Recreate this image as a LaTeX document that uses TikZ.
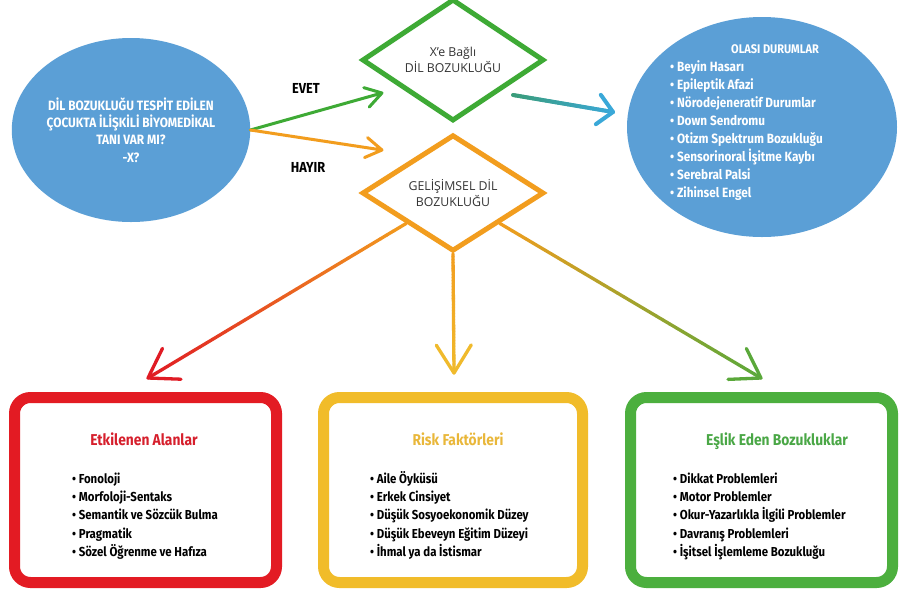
\documentclass[tikz,border=0pt]{standalone}
\usepackage{fontspec}
\setmainfont{Fira Sans}
\newfontfamily\condfont[FakeStretch=0.88]{Fira Sans}
\newfontfamily\diafont{Open Sans}
\usetikzlibrary{shapes.geometric,calc}

\definecolor{ovalblue}{HTML}{5B9FD6}
\definecolor{diagreen}{HTML}{3EAA35}
\definecolor{diaorange}{HTML}{F29D1E}
\definecolor{boxred}{HTML}{E31B23}
\definecolor{boxyellow}{HTML}{F1BC2A}
\definecolor{boxgreen}{HTML}{4CAF3E}
\definecolor{titlered}{HTML}{D61F2C}
\definecolor{titleyellow}{HTML}{E9B73A}
\definecolor{titlegreen}{HTML}{4AA746}
\definecolor{arrteal}{HTML}{3A9C78}
\definecolor{arrcyan}{HTML}{3AA8D8}
\definecolor{arrgreen}{HTML}{5AA83A}
\definecolor{arrred}{HTML}{E01B24}
\definecolor{arryellow}{HTML}{F0BA2C}

% colour-graded arrow: start, end, start colour, end colour, width, barb length, barb angle
\newcommand\gradarrow[7]{%
  \foreach \k in {0,...,39}{%
    \pgfmathsetmacro\pa{\k/40}%
    \pgfmathsetmacro\pb{(\k+1)/40}%
    \pgfmathsetmacro\mix{100*(\k+0.5)/40}%
    \draw[line width=#5, color=#4!\mix!#3, line cap=round]
      ($(#1)!\pa!(#2)$) -- ($(#1)!\pb!(#2)$);
  }%
  \draw[line width=#5, color=#4, line cap=round, line join=round]
    ($(#2)!#6!#7:(#1)$) -- (#2) -- ($(#2)!#6!-#7:(#1)$);
}

\tikzset{
  condbold/.style={font=\condfont\bfseries\fontsize{#1}{#1}\selectfont},
  infobox/.style={draw=#1, line width=11pt, rounded corners=16pt, fill=white,
    minimum width=262pt, minimum height=185pt, inner sep=0pt},
  decision/.style={diamond, draw=#1, line width=5pt, minimum width=182pt,
    minimum height=111pt, inner sep=0pt, align=center, text=black!80,
    font=\diafont\fontsize{12.3}{16.5}\selectfont},
  boxtitle/.style={anchor=base, inner sep=0pt, text=#1,
    font=\condfont\bfseries\fontsize{15.7}{15.7}\selectfont},
  listitem/.style={anchor=base west, inner sep=0pt, text=#1,
    font=\condfont\bfseries\fontsize{13}{13}\selectfont},
}

\begin{document}
\begin{tikzpicture}[x=1pt, y=-1pt]
\useasboundingbox (0,0) rectangle (899,598);
\fill[white] (0,0) rectangle (899,598);

% question oval
\node[ellipse, fill=ovalblue, minimum width=222pt, minimum height=184pt,
  inner sep=0pt, text=white, align=center,
  font=\condfont\bfseries\fontsize{13.5}{17.4}\selectfont] (q) at (131,130)
  {DİL BOZUKLUĞU TESPİT EDİLEN\\ÇOCUKTA İLİŞKİLİ BİYOMEDİKAL\\TANI VAR MI?\\-X?};

% decisions
\node[decision=diagreen] (xdep) at (453,60) {X’e Bağlı\\DİL BOZUKLUĞU};
\node[decision=diaorange] (gel) at (453,193) {GELİŞİMSEL DİL\\BOZUKLUĞU};

% possible conditions oval
\node[ellipse, fill=ovalblue, minimum width=270pt, minimum height=220pt,
  inner sep=0pt] (olasi) at (762,127) {};
\node[anchor=base, inner sep=0pt, text=white,
  font=\condfont\bfseries\fontsize{12.5}{12.5}\selectfont] (olasiT) at (775,53) {OLASI DURUMLAR};
\foreach \t [count=\i] in {Beyin Hasarı, Epileptik Afazi, Nörodejeneratif Durumlar,
    Down Sendromu, Otizm Spektrum Bozukluğu, Sensorinoral İşitme Kaybı,
    Serebral Palsi, Zihinsel Engel}
  \node[listitem=white, font=\condfont\bfseries\fontsize{13.4}{13.4}\selectfont]
    (olasi\i) at (670,{71.5+18*(\i-1)}) {• \t};

% yes / no branches
\coordinate (evetTip) at (382,93);
\coordinate (hayirTip) at (382,150);
\draw[diagreen, line width=3pt, line cap=round, line join=round]
  (q.east) -- (evetTip)
  ($(evetTip)!19pt!32:(q.east)$) -- (evetTip) -- ($(evetTip)!19pt!-32:(q.east)$);
\draw[diaorange, line width=3pt, line cap=round, line join=round]
  (q.east) -- (hayirTip)
  ($(hayirTip)!19pt!32:(q.east)$) -- (hayirTip) -- ($(hayirTip)!19pt!-32:(q.east)$);
\node[condbold=14.5, anchor=base] (evet) at (306,93) {EVET};
\node[condbold=14.5, anchor=base] (hayir) at (308,172) {HAYIR};

% from the first decision to the conditions oval
\coordinate (xOut) at (513,95);
\coordinate (olasiTip) at (613,112);
\gradarrow{xOut}{olasiTip}{arrteal}{arrcyan}{4pt}{21pt}{45}

% three branches from the developmental decision
\coordinate (gelSW) at ($(gel.west)!0.5!(gel.south)$);
\coordinate (gelSE) at ($(gel.east)!0.5!(gel.south)$);
\coordinate (etkTip) at (148,378);
\coordinate (riskTip) at (454,373);
\coordinate (eslikTip) at (761,378);
\gradarrow{gelSW}{etkTip}{diaorange}{arrred}{3.3pt}{33pt}{33}
\gradarrow{gel.south}{riskTip}{diaorange}{arryellow}{3.3pt}{33pt}{32}
\gradarrow{gelSE}{eslikTip}{diaorange}{arrgreen}{3.3pt}{33pt}{33}

% bottom boxes
\node[infobox=boxred] (etk) at (145.5,490) {};
\node[infobox=boxyellow, minimum width=259pt] (risk) at (453,490) {};
\node[infobox=boxgreen] (eslik) at (761.5,490) {};

\node[boxtitle=titlered] (etkT) at (144,445) {Etkilenen Alanlar};
\node[boxtitle=titleyellow] (riskT) at (458,445) {Risk Faktörleri};
\node[boxtitle=titlegreen] (eslikT) at (777,445) {Eşlik Eden Bozukluklar};

\foreach \t [count=\i] in {Fonoloji, Morfoloji-Sentaks, Semantik ve Sözcük Bulma,
    Pragmatik, Sözel Öğrenme ve Hafıza}
  \node[listitem=black] (etk\i) at (72,{483.5+18.2*(\i-1)}) {• \t};
\foreach \t [count=\i] in {Aile Öyküsü, Erkek Cinsiyet, Düşük Sosyoekonomik Düzey,
    Düşük Ebeveyn Eğitim Düzeyi, İhmal ya da İstismar}
  \node[listitem=black] (risk\i) at (370,{483.5+18.2*(\i-1)}) {• \t};
\foreach \t [count=\i] in {Dikkat Problemleri, Motor Problemler,
    Okur-Yazarlıkla İlgili Problemler, Davranış Problemleri,
    İşitsel İşlemleme Bozukluğu}
  \node[listitem=black] (eslik\i) at (673,{483.5+18.2*(\i-1)}) {• \t};
\end{tikzpicture}
\end{document}
